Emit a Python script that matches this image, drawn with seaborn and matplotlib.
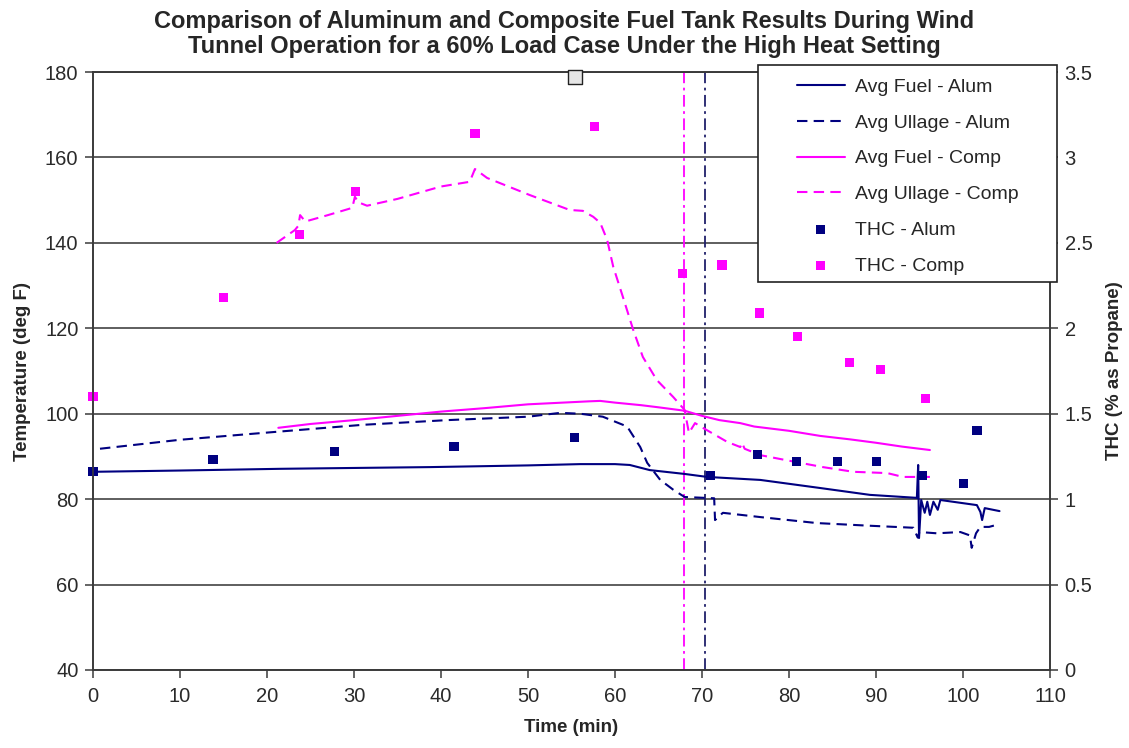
import matplotlib
matplotlib.use("Agg")
import matplotlib.pyplot as plt
from matplotlib.patches import Rectangle
import seaborn as sns
import pandas as pd

# ---------------- data ----------------
t_fuel_alum = [0, 10, 21.5, 30, 38.7, 50, 56, 60, 61.7, 64, 68, 70.6, 76.7, 83.6, 89.3,
               94.7, 94.85, 94.95, 95.2, 95.6, 95.9, 96.2, 96.6, 97.1, 97.4, 99.5,
               101.6, 102.0, 102.2, 102.5, 104.2]
fuel_alum = [86.4, 86.7, 87.1, 87.3, 87.5, 87.9, 88.2, 88.2, 88.0, 86.8, 85.9, 85.2, 84.5,
             82.6, 81.0, 80.3, 88.0, 70.9, 79.8, 76.8, 79.4, 76.3, 79.4, 77.5, 79.8, 79.2,
             78.6, 77.0, 75.1, 77.9, 77.2]

t_ull_alum = [0.8, 10, 20.7, 31, 40.7, 50, 53.7, 56, 58.6, 61.4, 62.9, 63.7, 65.2, 66.7,
              68, 70.3, 71.4, 71.5, 72.4, 76.7, 83.2, 89, 94.3, 94.8, 95, 97, 99.7,
              100.8, 101, 101.5, 102, 103, 103.9]
ull_alum = [91.8, 93.9, 95.7, 97.4, 98.5, 99.3, 100.2, 100.0, 99.3, 97.0, 92.2, 88.5,
            84.5, 82.2, 80.5, 80.3, 80.2, 75.1, 76.8, 75.8, 74.4, 73.8, 73.3, 71.0, 72.3,
            72.0, 72.3, 71.5, 68.6, 72.0, 73.5, 73.5, 74.0]

t_fuel_comp = [21.3, 25, 30, 35, 40, 45, 50, 54, 57, 58.3, 60, 63, 65, 68, 70, 72, 74.4,
               76, 80, 83.6, 87, 90, 93, 96.2]
fuel_comp = [96.7, 97.6, 98.5, 99.5, 100.5, 101.3, 102.2, 102.6, 102.9, 103.0, 102.6,
             102.0, 101.5, 100.7, 99.5, 98.5, 97.8, 97.0, 96.0, 94.8, 94.0, 93.2, 92.3, 91.5]

t_ull_comp = [21.1, 23.2, 23.6, 23.8, 24.4, 27, 29.8, 30.1, 30.5, 31.5, 35, 40, 43.3,
              43.9, 45.3, 50.2, 54.8, 56.3, 57.5, 58.3, 59.1, 59.8, 60.9, 62.1, 63.2,
              64.8, 66.7, 68, 68.5, 69.2, 70.1, 72.9, 74.4, 74.6, 74.9, 76.7, 80, 83.9,
              87.4, 91.3, 93.1, 96.2]
ull_comp = [140.0, 143.0, 144.0, 146.5, 145.0, 146.5, 148.2, 150.8, 149.5, 148.7, 150.3,
            153.2, 154.3, 157.3, 155.2, 151.2, 147.7, 147.5, 146.1, 144.7, 140.7, 134.4,
            127.4, 119.6, 113.3, 107.9, 103.9, 100.9, 95.5, 97.8, 96.7, 93.4, 92.2, 93.2,
            91.8, 90.3, 89.0, 87.5, 86.4, 86.1, 85.2, 85.2]

t_thc_alum = [0, 13.8, 27.8, 41.5, 55.3, 71.0, 76.4, 80.9, 85.6, 90.1, 95.3, 100.1, 101.6]
thc_alum = [1.16, 1.23, 1.28, 1.31, 1.36, 1.14, 1.26, 1.22, 1.22, 1.22, 1.14, 1.09, 1.40]

t_thc_comp = [0, 15, 23.7, 30.2, 43.9, 57.6, 67.8, 72.3, 76.6, 81, 87, 90.5, 95.7]
thc_comp = [1.60, 2.18, 2.55, 2.80, 3.14, 3.18, 2.32, 2.37, 2.09, 1.95, 1.80, 1.76, 1.59]

stray_t = [55.4]
stray_thc = [3.47]

event_t = [67.95, 70.4]

x_ticks = list(range(0, 111, 10))
y_ticks = list(range(40, 181, 20))
y2_ticks = [0, 0.5, 1, 1.5, 2, 2.5, 3, 3.5]
y2_labels = ["0", "0.5", "1", "1.5", "2", "2.5", "3", "3.5"]

title = ("Comparison of Aluminum and Composite Fuel Tank Results During Wind\n"
         "Tunnel Operation for a 60% Load Case Under the High Heat Setting")

# ---------------- style ----------------
sns.set_style("white")
plt.rcParams["font.family"] = ["Liberation Sans", "DejaVu Sans"]

NAVY = "#000080"
MAG = "#FF00FF"
AXC = "#3a3a3a"

fig = plt.figure(figsize=(11.29, 7.48), dpi=100)
ax = fig.add_axes([0.0824, 0.1043, 0.930 - 0.0824, 0.9037 - 0.1043])
ax2 = ax.twinx()

df_fa = pd.DataFrame({"t": t_fuel_alum, "v": fuel_alum})
df_ua = pd.DataFrame({"t": t_ull_alum, "v": ull_alum})
df_fc = pd.DataFrame({"t": t_fuel_comp, "v": fuel_comp})
df_uc = pd.DataFrame({"t": t_ull_comp, "v": ull_comp})

sns.lineplot(data=df_fa, x="t", y="v", ax=ax, color=NAVY, lw=1.5, sort=False,
             estimator=None, label="Avg Fuel - Alum")
sns.lineplot(data=df_ua, x="t", y="v", ax=ax, color=NAVY, lw=1.5, sort=False,
             estimator=None, label="Avg Ullage - Alum")
ax.lines[-1].set_dashes((5, 3))
sns.lineplot(data=df_fc, x="t", y="v", ax=ax, color=MAG, lw=1.5, sort=False,
             estimator=None, label="Avg Fuel - Comp")
sns.lineplot(data=df_uc, x="t", y="v", ax=ax, color=MAG, lw=1.5, sort=False,
             estimator=None, label="Avg Ullage - Comp")
ax.lines[-1].set_dashes((5, 3))

ax.axvline(event_t[0], color=MAG, lw=1.3, dashes=(6.5, 2.5, 1.5, 2.5), zorder=1)
ax.axvline(event_t[1], color="#20206a", lw=1.3, dashes=(6.5, 2.5, 1.5, 2.5), zorder=1)

df_ta = pd.DataFrame({"t": t_thc_alum, "v": thc_alum})
df_tc = pd.DataFrame({"t": t_thc_comp, "v": thc_comp})
sns.scatterplot(data=df_ta, x="t", y="v", ax=ax2, color=NAVY, marker="s", s=44,
                edgecolor="none", label="THC - Alum", clip_on=False)
sns.scatterplot(data=df_tc, x="t", y="v", ax=ax2, color=MAG, marker="s", s=44,
                edgecolor="none", label="THC - Comp", clip_on=False)
sns.scatterplot(x=stray_t, y=stray_thc, ax=ax2, marker="s", s=110, color="#e6e6e6",
                edgecolor="#222222", linewidth=1.0, clip_on=False, zorder=10)

# axes
ax.set_xlim(0, 110)
ax.set_ylim(40, 180)
ax.set_xticks(x_ticks)
ax.set_yticks(y_ticks)
ax2.set_ylim(0, 3.5)
ax2.set_yticks(y2_ticks)
ax2.set_yticklabels(y2_labels)

ax.grid(axis="y", color="#333333", lw=1.1)
ax.grid(axis="x", visible=False)
ax2.grid(False)
ax.set_axisbelow(True)

for a in (ax, ax2):
    for s in a.spines.values():
        s.set_color(AXC)
        s.set_linewidth(1.2)
        s.set_visible(True)

ax.tick_params(axis="both", direction="out", length=5.5, width=1.1, color=AXC,
               labelsize=14.5, labelcolor="#2a2a2a", left=True, bottom=True)
ax.tick_params(axis="x", pad=7)
ax.tick_params(axis="y", pad=5)
ax2.tick_params(axis="y", direction="out", length=5.5, width=1.1, color=AXC,
                labelsize=14.5, labelcolor="#2a2a2a", right=True, pad=5)

ax.set_xlabel("Time (min)", fontsize=13.5, fontweight="bold", labelpad=9)
ax.set_ylabel("Temperature (deg F)", fontsize=13.5, fontweight="bold", labelpad=10)
ax2.set_ylabel("THC (% as Propane)", fontsize=13.5, fontweight="bold", labelpad=10)

fig.suptitle(title, fontsize=17, fontweight="bold", y=0.986, linespacing=1.1)

# legend
h1, l1 = ax.get_legend_handles_labels()
h2, l2 = ax2.get_legend_handles_labels()
ax.get_legend().remove()
ax2.get_legend().remove()
W, H = 1129.0, 748.0
x0, x1, ytop, ybot = 758, 1057, 65, 282
rect = Rectangle((x0 / W, 1 - ybot / H), (x1 - x0) / W, (ybot - ytop) / H,
                 transform=fig.transFigure, facecolor="white", edgecolor="#222222",
                 lw=1.2, zorder=5)
fig.patches.append(rect)
leg = fig.legend(h1 + h2, l1 + l2, loc="center",
                 bbox_to_anchor=((x0 + x1) / 2 / W, 1 - (ytop + ybot) / 2 / H - 0.004),
                 bbox_transform=fig.transFigure, frameon=False, fontsize=14,
                 handlelength=2.5, handletextpad=0.5, labelspacing=0.93,
                 markerscale=1.0)
leg.set_zorder(6)

fig.savefig("out.png", dpi=100)
